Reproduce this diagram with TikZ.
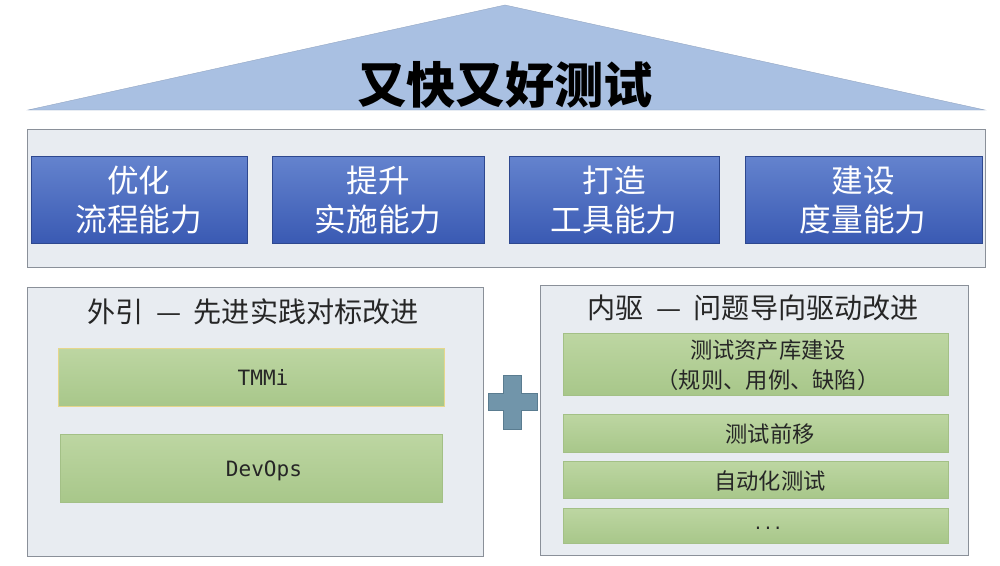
\documentclass[tikz,border=0pt]{standalone}
\usepackage{fontspec}
\setmainfont{Noto Sans CJK SC}
\newfontfamily\cjk{Noto Sans CJK SC}
\newfontfamily\monof{DejaVu Sans Mono}
\definecolor{roofc}{HTML}{A9C0E2}
\definecolor{panelc}{HTML}{E8ECF1}
\definecolor{paneldraw}{HTML}{8A9099}
\definecolor{bluetop}{HTML}{6483CE}
\definecolor{bluebot}{HTML}{3A5AB3}
\definecolor{greentop}{HTML}{BDD6A2}
\definecolor{greenbot}{HTML}{A8C78A}
\definecolor{greendraw}{HTML}{A3C086}
\definecolor{yellowdraw}{HTML}{E6D68C}
\definecolor{plusc}{HTML}{7195AA}
\definecolor{plusdraw}{HTML}{5A7C90}
\tikzset{
  panel/.style={draw=paneldraw, line width=0.8pt, fill=panelc},
  bluebox/.style={draw=bluebot!80!black, line width=0.4pt, top color=bluetop, bottom color=bluebot},
  bluetext/.style={text=white, font=\cjk\fontsize{27}{33}\selectfont, align=center},
  greenbox/.style={draw=greendraw, line width=0.6pt, top color=greentop, bottom color=greenbot},
  gtext/.style={font=\cjk\fontsize{19}{26}\selectfont, text=black!85, align=center},
  mtext/.style={font=\monof\fontsize{18}{20}\selectfont, text=black!85},
  ptitle/.style={text=black!85, font=\cjk\fontsize{24}{28}\selectfont},
}
\begin{document}
\begin{tikzpicture}[x=0.3mm,y=-0.3mm]
\path[use as bounding box, fill=white] (0,0) rectangle (1000,566);
% roof
\path[fill=roofc, draw=roofc!85!black, line width=0.3pt] (28,110) coordinate (rl) -- (505,5) coordinate (ra) -- (985,110) coordinate (rr) -- cycle;
\node[font=\cjk\bfseries\fontsize{42}{48}\selectfont, text=black] (title) at (505,85) {又快又好测试};
% top panel
\draw[panel] (27,129) rectangle (985,267);
\path[bluebox] (31,156) rectangle (247,243);
\path[bluebox] (272,156) rectangle (484,243);
\path[bluebox] (509,156) rectangle (719,243);
\path[bluebox] (745,156) rectangle (982,243);
\node[bluetext] (b1) at (139,200) {优化\\流程能力};
\node[bluetext] (b2) at (378,200) {提升\\实施能力};
\node[bluetext] (b3) at (614,200) {打造\\工具能力};
\node[bluetext] (b4) at (863,200) {建设\\度量能力};
% left panel
\draw[panel] (27,287) rectangle (483,556);
\node[ptitle] (lt) at (253,312) {外引\ \ —\ \ 先进实践对标改进};
\path[greenbox, draw=yellowdraw] (58,348) rectangle (444,406);
\node[mtext] (tmmi) at (263,377) {TMMi};
\path[greenbox] (60,434) rectangle (442,502);
\node[mtext] (devops) at (264,471) {DevOps};
% plus
\path[fill=plusc, draw=plusdraw, line width=0.5pt]
  (503,375) -- (521,375) -- (521,393) -- (537,393) -- (537,410) -- (521,410) -- (521,429) -- (503,429) -- (503,410) -- (488,410) -- (488,393) -- (503,393) -- cycle;
% right panel
\draw[panel] (540,285) rectangle (968,555);
\node[ptitle] (rt) at (753,308) {内驱\ \ —\ \ 问题导向驱动改进};
\path[greenbox] (563,333) rectangle (948,395);
\node[gtext] (g1) at (768,365) {测试资产库建设\\（规则、用例、缺陷）};
\path[greenbox] (563,414) rectangle (948,452);
\node[gtext] (g2) at (770,434) {测试前移};
\path[greenbox] (563,461) rectangle (948,498);
\node[gtext] (g3) at (770,481) {自动化测试};
\path[greenbox] (563,508) rectangle (948,543);
\node[mtext, font=\monof\fontsize{14}{20}\selectfont] (g4) at (768,528) {...};
\end{tikzpicture}
\end{document}
